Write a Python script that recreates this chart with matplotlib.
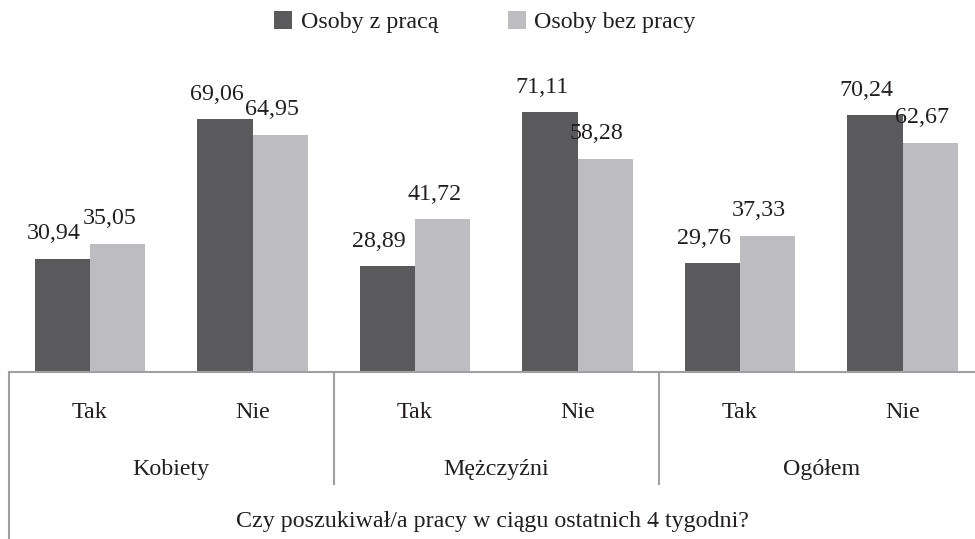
import matplotlib.pyplot as plt
from matplotlib.lines import Line2D
from matplotlib.transforms import blended_transform_factory
import numpy as np

plt.rcParams["font.family"] = ["Liberation Serif", "DejaVu Serif"]

groups = ["Kobiety", "Mężczyźni", "Ogółem"]
answers = ["Tak", "Nie"]
series_names = ["Osoby z pracą", "Osoby bez pracy"]
with_job = [30.94, 69.06, 28.89, 71.11, 29.76, 70.24]
without_job = [35.05, 64.95, 41.72, 58.28, 37.33, 62.67]
axis_title = "Czy poszukiwał/a pracy w ciągu ostatnich 4 tygodni?"

W, H = 975, 539
DARK = "#5a5a5c"
LIGHT = "#bdbdc1"
TXT = "#231f20"
LINE = "#a0a0a0"
FS = 17.3


def fy(py):
    return 1 - py / H


fig = plt.figure(figsize=(W / 100, H / 100), dpi=100)
ax = fig.add_axes([8.75 / W, fy(372), 975 / W, fy(79.5) - fy(372)])

x = np.arange(len(with_job))
bw = 0.34
b1 = ax.bar(x - bw / 2, with_job, bw, color=DARK, label=series_names[0])
b2 = ax.bar(x + bw / 2, without_job, bw, color=LIGHT, label=series_names[1])

for bars, vals in ((b1, with_job), (b2, without_job)):
    for rect, v in zip(bars, vals):
        ax.annotate(f"{v:.2f}".replace(".", ","),
                    (rect.get_x() + rect.get_width() / 2, v),
                    xytext=(-6, 14), textcoords="offset points",
                    ha="center", va="baseline", fontsize=FS, color=TXT)

ax.set_xlim(-0.5, 5.5)
ax.set_ylim(0, 80)
ax.set_xticks([])
ax.set_yticks([])
for s in ("top", "right", "left"):
    ax.spines[s].set_visible(False)
ax.spines["bottom"].set_color(LINE)
ax.spines["bottom"].set_linewidth(1.5)

tr = blended_transform_factory(ax.transData, fig.transFigure)
for i in range(len(with_job)):
    ax.text(i, fy(413), answers[i % 2], transform=tr, ha="center", va="center",
            fontsize=FS, color=TXT)
for g, name in enumerate(groups):
    ax.text(2 * g + 0.5, fy(470), name, transform=tr, ha="center", va="center",
            fontsize=FS, color=TXT)

for xs in (1.5, 3.5):
    ax.add_line(Line2D([xs, xs], [fy(372), fy(484)], transform=tr, color=LINE,
                       lw=1.5, clip_on=False))
ax.add_line(Line2D([-0.5, -0.5], [fy(372), 0], transform=tr, color=LINE,
                   lw=1.5, clip_on=False))

fig.text(492 / W, fy(521), axis_title, ha="center", va="center",
         fontsize=FS, color=TXT)

fig.legend(handles=[b1, b2], loc="center", bbox_to_anchor=(485 / W, fy(22)),
           ncol=2, frameon=False, fontsize=FS, handlelength=0.75,
           handleheight=0.75, handletextpad=0.35, columnspacing=2.9,
           labelcolor=TXT)

fig.savefig("out.png", dpi=100)
